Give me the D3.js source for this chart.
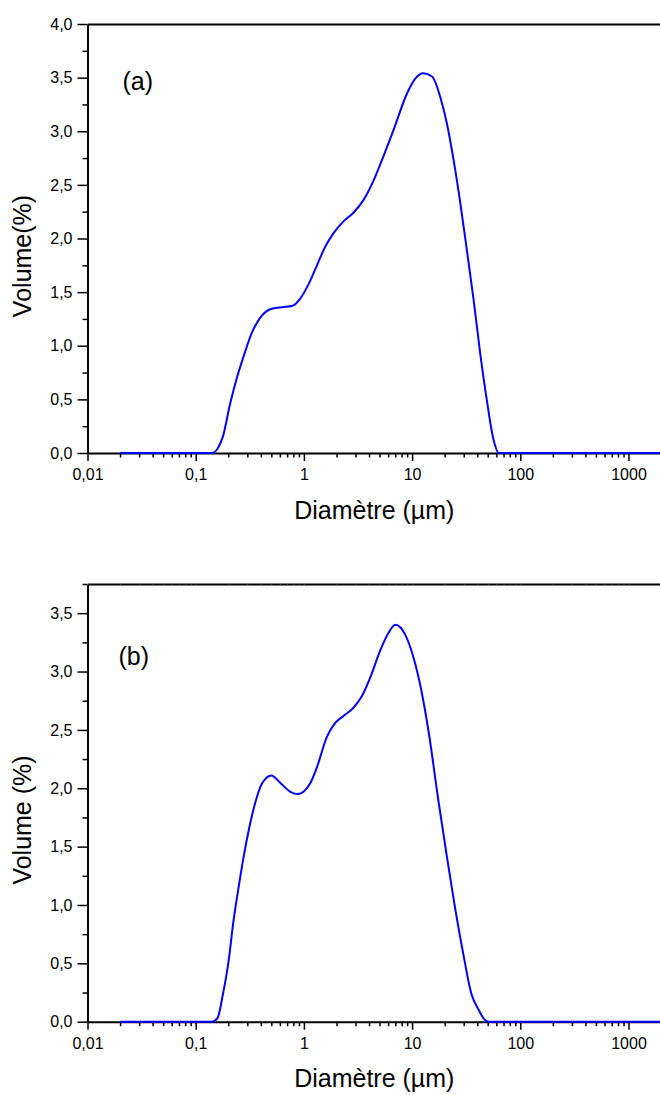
<!DOCTYPE html>
<html>
<head>
<meta charset="utf-8">
<script src="https://cdn.jsdelivr.net/npm/d3@7"></script>
<style>
  body { margin: 0; background: #fff; }
  svg { display: block; font-family: "Liberation Sans", Arial, sans-serif; }
</style>
</head>
<body>
<div id="chart"></div>
<script>
// panel (a) - diameter (µm) / volume (%)
var diamA = [0.02, 0.142, 0.159, 0.178, 0.208, 0.240, 0.277, 0.330, 0.394, 0.489,
    0.627, 0.775, 0.925, 1.10, 1.32, 1.57, 1.88, 2.32, 2.87, 3.56,
    4.40, 5.07, 6.73, 8.95, 10.7, 12.6, 15.3, 18.2, 21.0, 24.2,
    27.9, 32.1, 37.0, 42.6, 49.1, 56.4, 63.2, 2000];
var volA = [0, 0, 0.04, 0.15, 0.46, 0.70, 0.90, 1.12, 1.26, 1.34,
    1.36, 1.37, 1.44, 1.57, 1.75, 1.92, 2.05, 2.16, 2.24, 2.36,
    2.54, 2.69, 3.01, 3.35, 3.49, 3.54, 3.51, 3.32, 3.07, 2.73,
    2.33, 1.89, 1.43, 0.93, 0.49, 0.13, 0, 0];

// panel (b)
var diamB = [0.02, 0.142, 0.159, 0.178, 0.200, 0.224, 0.249, 0.277, 0.314, 0.356,
    0.41, 0.50, 0.60, 0.75, 0.88, 0.99, 1.14, 1.32, 1.63, 1.95,
    2.32, 2.87, 3.44, 4.11, 5.07, 6.04, 7.0, 8.7, 10.3, 12.1,
    14.4, 17.4, 21.0, 24.9, 29.6, 35.3, 41.3, 46.6, 50.4, 2000];
var volB = [0, 0, 0.03, 0.23, 0.50, 0.87, 1.15, 1.41, 1.67, 1.88,
    2.04, 2.11, 2.05, 1.97, 1.95, 1.97, 2.04, 2.18, 2.44, 2.56,
    2.62, 2.69, 2.79, 2.95, 3.18, 3.33, 3.40, 3.31, 3.12, 2.85,
    2.45, 1.91, 1.41, 0.98, 0.59, 0.24, 0.10, 0.02, 0, 0];

var xMajor = [0.01, 0.1, 1, 10, 100, 1000];
var xLabels = ["0,01", "0,1", "1", "10", "100", "1000"];
var yMajorA = [0, 0.5, 1, 1.5, 2, 2.5, 3, 3.5, 4];
var yMajorB = [0, 0.5, 1, 1.5, 2, 2.5, 3, 3.5];

var W = 660, H = 1095;
var font = '"Liberation Sans", Arial, sans-serif';
var svg = d3.select("#chart").append("svg")
    .attr("width", W)
    .attr("height", H);

var x = d3.scaleLog()
    .domain([0.01, 2000])
    .range([87.5, 87.5 + 108.2 * Math.log10(200000)]);

// minor x ticks 2..9 x 10^k
var xMinor = [];
[0.01, 0.1, 1, 10, 100, 1000].forEach(function (p) {
    for (var k = 2; k <= 9; k++) {
        var v = +(p * k).toPrecision(3);
        if (v <= 2000) xMinor.push(v);
    }
});

var fmt = d3.formatLocale({ decimal: ",", thousands: " ", grouping: [3], currency: ["", ""] }).format(".1f");

function drawPanel(cfg) {
    var y = d3.scaleLinear().domain([0, cfg.yMax]).range([cfg.bottom, cfg.top]);
    var g = svg.append("g");

    var yMinor = [];
    for (var i = 0; i < cfg.yMajor.length; i++) {
        var m = cfg.yMajor[i] + 0.25;
        if (m <= cfg.yMax) yMinor.push(m);
    }

    // y axis
    g.append("g")
        .attr("transform", "translate(" + x.range()[0] + ",0)")
        .call(d3.axisLeft(y).tickValues(yMinor).tickSize(5).tickSizeOuter(0).tickFormat(""))
        .call(function (a) { a.select(".domain").remove(); });
    g.append("g")
        .attr("class", "lab")
        .attr("transform", "translate(" + x.range()[0] + ",0)")
        .call(d3.axisLeft(y).tickValues(cfg.yMajor).tickSize(10).tickSizeOuter(0).tickPadding(5).tickFormat(fmt));

    // x axis
    g.append("g")
        .attr("transform", "translate(0," + cfg.bottom + ")")
        .call(d3.axisBottom(x).tickValues(xMinor).tickSize(4.5).tickSizeOuter(0).tickFormat(""))
        .call(function (a) { a.select(".domain").remove(); });
    g.append("g")
        .attr("class", "lab")
        .attr("transform", "translate(0," + cfg.bottom + ")")
        .call(d3.axisBottom(x).tickValues(xMajor).tickSize(8).tickSizeOuter(0).tickPadding(8)
            .tickFormat(function (d, i) { return xLabels[i]; }));

    // top frame line
    var ta = g.append("g")
        .attr("transform", "translate(0," + cfg.top + ")")
        .call(d3.axisTop(x).tickValues(cfg.topTicks ? xMinor.concat(xMajor) : []).tickSize(-1.5).tickSizeOuter(0).tickFormat(""));

    g.selectAll(".lab")
        .attr("font-size", 16)
        .attr("font-family", font);
    g.selectAll(".domain").attr("stroke", "#000").attr("stroke-width", 2);
    g.selectAll(".tick line").attr("stroke", "#000").attr("stroke-width", 1.5);
    g.selectAll(".tick text").attr("fill", "#000");
    ta.selectAll(".tick line").attr("stroke-width", 0.8).attr("stroke", "#555");

    // curve
    var line = d3.line()
        .x(function (d) { return x(d[0]); })
        .y(function (d) { return y(d[1]); })
        .curve(d3.curveMonotoneX);
    g.append("path")
        .datum(d3.zip(cfg.diam, cfg.vol))
        .attr("fill", "none")
        .attr("stroke", "#0000ff")
        .attr("stroke-width", 2)
        .attr("stroke-linejoin", "round")
        .attr("d", line);

    // titles
    g.append("text")
        .attr("x", (x.range()[0] + x.range()[1]) / 2)
        .attr("y", cfg.xTitleY)
        .attr("text-anchor", "middle")
        .style("font-size", "25px")
        .attr("fill", "#000")
        .text("Diamètre (µm)");

    g.append("text")
        .attr("transform", "translate(31," + cfg.yTitleY + ") rotate(-90)")
        .attr("text-anchor", "middle")
        .style("font-size", "25px")
        .attr("fill", "#000")
        .text(cfg.yTitle);

    g.append("text")
        .attr("x", cfg.tagX)
        .attr("y", cfg.tagY)
        .style("font-size", "25px")
        .attr("fill", "#000")
        .text(cfg.tag);
}

drawPanel({
    diam: diamA, vol: volA, yMax: 4, yMajor: yMajorA,
    top: 24, bottom: 453, topTicks: false,
    xTitleY: 519, yTitle: "Volume(%)", yTitleY: 256,
    tag: "(a)", tagX: 122.5, tagY: 90
});

drawPanel({
    diam: diamB, vol: volB, yMax: 3.75, yMajor: yMajorB,
    top: 584, bottom: 1021.7, topTicks: true,
    xTitleY: 1087, yTitle: "Volume (%)", yTitleY: 820,
    tag: "(b)", tagX: 118.5, tagY: 665
});
</script>
</body>
</html>
